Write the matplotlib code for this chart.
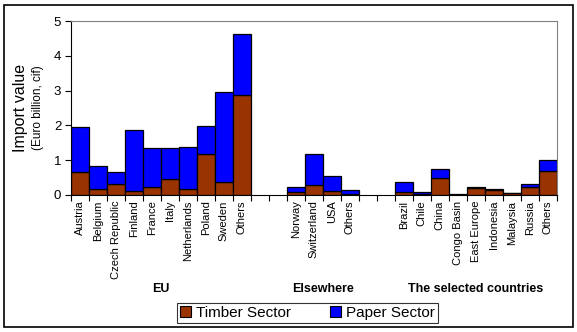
import matplotlib
matplotlib.use("Agg")
import matplotlib.pyplot as plt
from matplotlib.patches import Rectangle, Patch
import numpy as np

plt.rcParams["font.family"] = ["Liberation Sans", "DejaVu Sans"]

# categories per group; empty strings are the gaps between groups
categories = [
    "Austria", "Belgium", "Czech Republic", "Finland", "France", "Italy",
    "Netherlands", "Poland", "Sweden", "Others",
    "", "",
    "Norway", "Switzerland", "USA", "Others",
    "", "",
    "Brazil", "Chile", "China", "Congo Basin", "East Europe", "Indonesia",
    "Malaysia", "Russia", "Others",
]
timber = [
    0.66, 0.16, 0.32, 0.11, 0.22, 0.45, 0.16, 1.18, 0.37, 2.86,
    0.0, 0.0,
    0.09, 0.29, 0.11, 0.04,
    0.0, 0.0,
    0.09, 0.02, 0.49, 0.01, 0.19, 0.13, 0.06, 0.23, 0.69,
]
total = [
    1.95, 0.83, 0.66, 1.87, 1.34, 1.34, 1.38, 1.98, 2.96, 4.64,
    0.0, 0.0,
    0.23, 1.18, 0.55, 0.14,
    0.0, 0.0,
    0.37, 0.09, 0.75, 0.03, 0.23, 0.17, 0.07, 0.33, 1.01,
]
paper = [t - w for t, w in zip(total, timber)]
groups = ["EU", "Elsewhere", "The selected countries"]
group_span = [(0, 10), (12, 16), (18, 27)]

TIMBER = "#993300"
PAPER = "#0000ff"

fig = plt.figure(figsize=(5.77, 3.32), dpi=100)
ax = fig.add_axes([0.123, 0.4127, 0.842, 0.524])

x = np.arange(len(categories))
for i in x:
    if total[i] <= 0:
        continue
    ax.bar(i, timber[i], width=1.0, align="edge", color=TIMBER,
           edgecolor="black", linewidth=0.9)
    ax.bar(i, paper[i], bottom=timber[i], width=1.0, align="edge",
           color=PAPER, edgecolor="black", linewidth=0.9)

ax.set_xlim(0, len(categories))
ax.set_ylim(0, 5)
ax.set_yticks(range(6))
ax.tick_params(axis="y", labelsize=9.5, length=4, width=0.8, pad=3)
ax.set_xticks(np.arange(len(categories) + 1))
ax.set_xticklabels([])
ax.tick_params(axis="x", which="major", length=4, width=0.8)
ax.set_xticks(x + 0.5, minor=True)
ax.set_xticklabels(categories, minor=True, rotation=90, fontsize=8, va="top")
ax.tick_params(axis="x", which="minor", length=0, pad=4)

for side in ("top", "right"):
    ax.spines[side].set_color("#808080")
for side in ("left", "bottom"):
    ax.spines[side].set_color("black")

fig.text(0.036, 0.675, "Import value", rotation=90, fontsize=11.5,
         ha="center", va="center")
fig.text(0.066, 0.675, "(Euro billion, cif)", rotation=90, fontsize=8.5,
         ha="center", va="center")

x0, x1 = 0.123, 0.965
for name, (a, b) in zip(groups, group_span):
    cx = x0 + (x1 - x0) * ((a + b) / 2) / len(categories)
    fig.text(cx, 0.13, name, fontsize=9, fontweight="bold",
             ha="center", va="center")

handles = [Patch(facecolor=TIMBER, edgecolor="black", linewidth=0.8),
           Patch(facecolor=PAPER, edgecolor="black", linewidth=0.8)]
leg = fig.legend(handles, ["Timber Sector", "Paper Sector"], ncol=2,
                 loc="center", bbox_to_anchor=(0.533, 0.058), fontsize=11,
                 frameon=True, fancybox=False, handlelength=0.7,
                 handleheight=0.7, handletextpad=0.3, columnspacing=2.6,
                 borderpad=0.2)
leg.get_frame().set_edgecolor("black")
leg.get_frame().set_linewidth(0.8)

fig.patches.append(Rectangle((0.007, 0.015), 0.986, 0.97,
                             transform=fig.transFigure, fill=False,
                             edgecolor="black", linewidth=1.2))

fig.savefig("out.png", dpi=100)
